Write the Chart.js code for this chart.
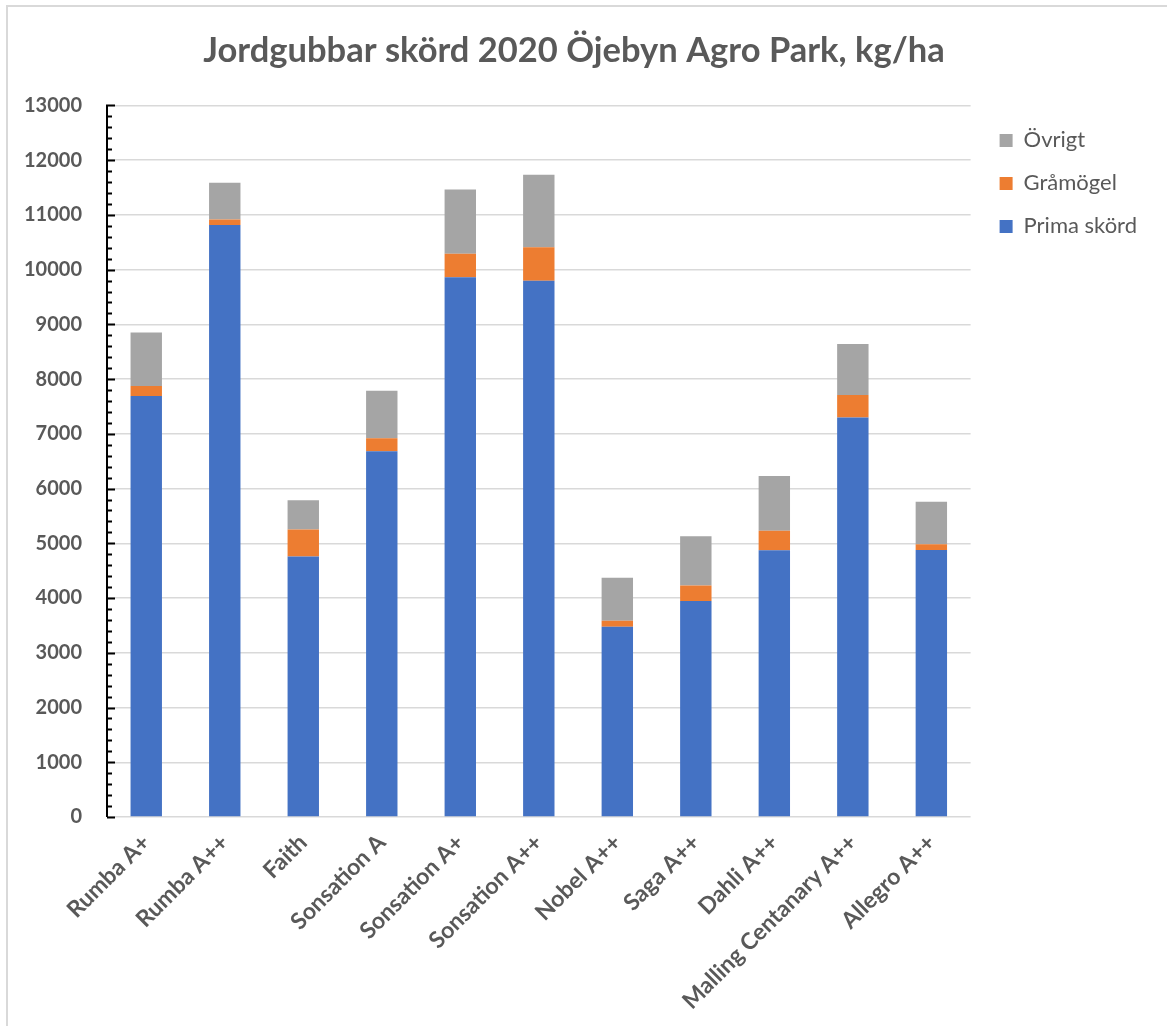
<!DOCTYPE html>
<html lang="sv">
<head>
<meta charset="utf-8">
<title>Jordgubbar skörd 2020</title>
<script src="https://cdn.jsdelivr.net/npm/chart.js@4.4.0/dist/chart.umd.min.js"></script>
<style>
    html, body { margin: 0; padding: 0; background: #fff; }
    #wrap { position: relative; width: 1167px; height: 1026px; }
</style>
</head>
<body>
<div id="wrap"><canvas id="chart" width="1167" height="1026"></canvas></div>
<script>
// --- Data ---
const sorter = ['Rumba A+', 'Rumba A++', 'Faith', 'Sonsation A', 'Sonsation A+', 'Sonsation A++',
    'Nobel A++', 'Saga A++', 'Dahli A++', 'Malling Centanary A++', 'Allegro A++'];
const primaSkord = [7690, 10815, 4760, 6680, 9860, 9795, 3475, 3945, 4875, 7300, 4880];
const gramogel   = [185, 100, 490, 240, 430, 615, 110, 285, 355, 410, 105];
const ovrigt     = [975, 670, 535, 865, 1175, 1325, 785, 900, 1000, 930, 775];

const yMin = 0;
const yMax = 13000;
const yStep = 1000;
const yMinorStep = 200;

const textGray = '#595959';
const fontFamily = 'Lato, "Liberation Sans", sans-serif';

// --- Plugins ---
// vit bakgrund + ljusgrå ram runt hela diagrammet
const frame = {
    id: 'frame',
    beforeDraw(chart) {
        const ctx = chart.ctx;
        ctx.save();
        ctx.fillStyle = '#fff';
        ctx.fillRect(0, 0, chart.width, chart.height);
        ctx.strokeStyle = '#d9d9d9';
        ctx.lineWidth = 2;
        ctx.strokeRect(7, 6, chart.width + 20, chart.height + 20);
        ctx.restore();
    }
};

// flytta legenden lite åt höger/nedåt (som i Excel)
const legendNudge = {
    id: 'legendNudge',
    afterLayout(chart) {
        const lg = chart.legend;
        if (!lg) return;
        lg.left += 8;
        lg.right += 8;
        lg.top += 3;
        lg.bottom += 3;
    }
};

// svart y-axel med streck inåt (större vid 1000, mindre vid 200)
const yAxisTicks = {
    id: 'yAxisTicks',
    afterDatasetsDraw(chart) {
        const y = chart.scales.y;
        const ctx = chart.ctx;
        const x0 = chart.chartArea.left;
        ctx.save();
        ctx.strokeStyle = '#000';
        ctx.lineWidth = 2;
        ctx.beginPath();
        ctx.moveTo(x0, y.getPixelForValue(yMax) - 1);
        ctx.lineTo(x0, y.getPixelForValue(yMin));
        for (let v = yMin; v <= yMax; v += yMinorStep) {
            const py = Math.round(y.getPixelForValue(v)) + 0.5;
            const len = v % yStep === 0 ? 8 : 5;
            ctx.moveTo(x0, py);
            ctx.lineTo(x0 + len, py);
        }
        ctx.stroke();
        ctx.restore();
    }
};

// --- Diagram ---
const ctx = document.getElementById('chart').getContext('2d');
const chart = new Chart(ctx, {
    type: 'bar',
    data: {
        labels: sorter,
        datasets: [
            { label: 'Prima skörd', data: primaSkord, backgroundColor: '#4472C4' },
            { label: 'Gråmögel', data: gramogel, backgroundColor: '#ED7D31' },
            { label: 'Övrigt', data: ovrigt, backgroundColor: '#A5A5A5' }
        ]
    },
    options: {
        responsive: false,
        animation: false,
        layout: { padding: { top: 10, right: 28, bottom: 0, left: 9 } },
        datasets: {
            bar: { barPercentage: 0.4, categoryPercentage: 1, borderWidth: 0 }
        },
        scales: {
            x: {
                stacked: true,
                afterFit(scale) { scale.height = 209; },
                grid: { display: false },
                border: { display: false },
                ticks: {
                    color: textGray,
                    font: { family: fontFamily, size: 23, weight: 'bold' },
                    maxRotation: 45,
                    minRotation: 45,
                    padding: 4,
                    autoSkip: false
                }
            },
            y: {
                stacked: true,
                min: yMin,
                max: yMax,
                afterFit(scale) { scale.width = 98; },
                grid: { color: '#d9d9d9', lineWidth: 1.5, drawTicks: false },
                border: { display: false },
                ticks: {
                    stepSize: yStep,
                    color: textGray,
                    padding: 25,
                    font: { family: fontFamily, size: 20, weight: 'bold' },
                    callback: (value) => String(value)
                }
            }
        },
        plugins: {
            title: {
                display: true,
                text: 'Jordgubbar skörd 2020 Öjebyn Agro Park, kg/ha',
                color: textGray,
                font: { family: fontFamily, size: 34.5, weight: 'bold' },
                padding: { top: 20, bottom: 34 }
            },
            legend: {
                position: 'right',
                align: 'start',
                fullSize: false,
                reverse: true,
                labels: {
                    color: textGray,
                    font: { family: fontFamily, size: 22 },
                    boxWidth: 13,
                    boxHeight: 13,
                    padding: 21
                }
            },
            tooltip: { enabled: false }
        }
    },
    plugins: [frame, legendNudge, yAxisTicks]
});
</script>
</body>
</html>
